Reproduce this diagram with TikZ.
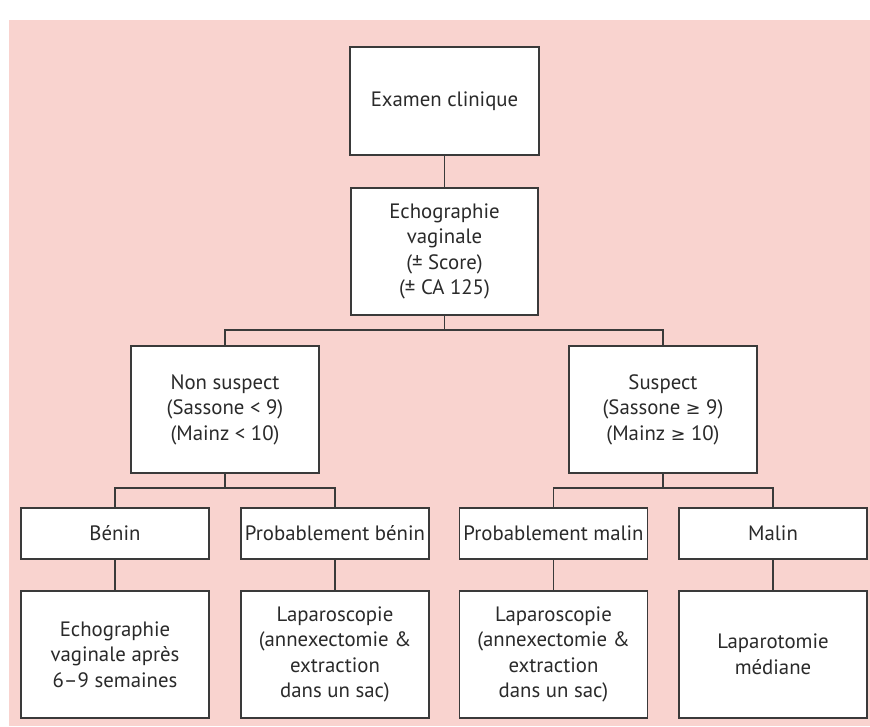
\documentclass[tikz,border=0pt]{standalone}
\usepackage{fontspec}
\setmainfont{PT Sans}
\newfontfamily\symfont{DejaVu Sans}
\newcommand{\gesym}{{\symfont\fontsize{17.5}{25.5}\selectfont ≥}}
\definecolor{bgpink}{HTML}{F9D3CF}
\definecolor{linegray}{HTML}{3A3A3A}
\definecolor{txtgray}{HTML}{2A2A2A}
\begin{document}
\begin{tikzpicture}[x=1pt,y=-1pt,
  box/.style={draw=linegray, line width=1.2pt, fill=white, text=txtgray,
    align=center, inner sep=0pt, minimum width=188pt,
    font=\fontsize{20.8}{25.5}\selectfont},
  tallbox/.style={box, minimum height=127pt},
  smallbox/.style={box, minimum height=51pt},
  conn/.style={draw=linegray, line width=1.2pt}]
\useasboundingbox (0,0) rectangle (870,726);
\fill[bgpink] (9,20) rectangle (870,726);

\node[box, minimum height=108pt, minimum width=189pt] (exam) at (444.5,101) {Examen clinique};
\node[tallbox, minimum width=187pt] (echo) at (444.5,251.5) {Echographie\\vaginale\\(± Score)\\(± CA 125)};
\node[tallbox] (nonsus) at (225,409.5) {Non suspect\\(Sassone < 9)\\(Mainz < 10)};
\node[tallbox] (sus) at (663,409.5) {Suspect\\(Sassone \gesym{} 9)\\(Mainz \gesym{} 10)};
\node[smallbox] (benin) at (115,533.5) {Bénin};
\node[smallbox] (probbenin) at (335,533.5) {Probablement bénin};
\node[smallbox] (probmalin) at (553.5,533.5) {Probablement malin};
\node[smallbox] (malin) at (773,533.5) {Malin};
\node[tallbox] (echoafter) at (115,654.5) {Echographie\\vaginale après\\6–9 semaines};
\node[tallbox] (lapa) at (335,654.5) {Laparoscopie\\(annexectomie \&\\extraction\\dans un sac)};
\node[tallbox] (lapb) at (553.5,654.5) {Laparoscopie\\(annexectomie \&\\extraction\\dans un sac)};
\node[tallbox] (lapt) at (773,654.5) {Laparotomie\\médiane};

\draw[conn] (exam.south) -- (echo.north);
\draw[conn] (echo.south) -- (echo.south |- 0,330) -| (nonsus.north);
\draw[conn] (echo.south |- 0,330) -| (sus.north);
\draw[conn] (nonsus.south) -- (nonsus.south |- 0,488) -| (benin.north);
\draw[conn] (nonsus.south |- 0,488) -| (probbenin.north);
\draw[conn] (sus.south) -- (sus.south |- 0,488) -| (probmalin.north);
\draw[conn] (sus.south |- 0,488) -| (malin.north);
\draw[conn] (benin.south) -- (echoafter.north);
\draw[conn] (probbenin.south) -- (lapa.north);
\draw[conn] (probmalin.south) -- (lapb.north);
\draw[conn] (malin.south) -- (lapt.north);
\end{tikzpicture}
\end{document}
